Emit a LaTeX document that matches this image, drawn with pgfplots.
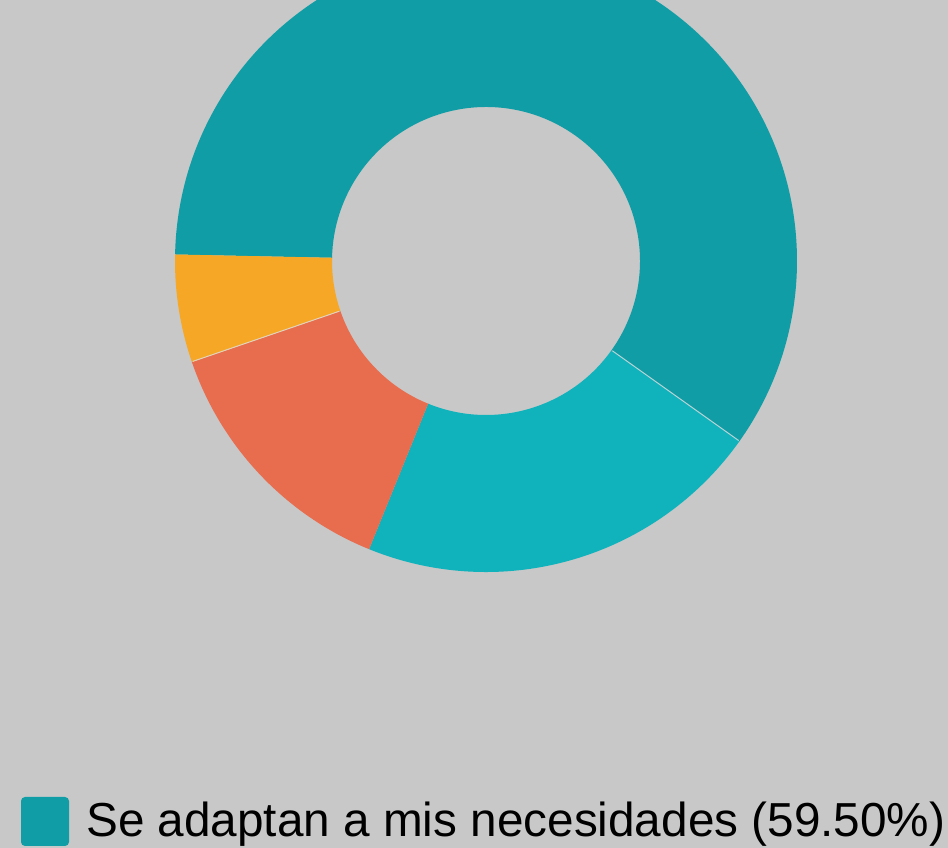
\documentclass[border=0pt]{standalone}
\usepackage{pgfplots}
\usepackage{pgfplotstable}
\pgfplotsset{compat=1.18}
\usepackage{fontspec}
\setmainfont{Liberation Sans}
\definecolor{bgc}{RGB}{200,200,200}
\definecolor{cA}{RGB}{16,157,165}
\definecolor{cB}{RGB}{16,178,188}
\definecolor{cC}{RGB}{232,108,78}
\definecolor{cD}{RGB}{245,167,37}
\pgfplotstableread{
idx value color
0 59.50 cA
1 21.30 cB
2 13.60 cC
3 5.60 cD
}\donutdata
\begin{document}
\begin{tikzpicture}
\begin{axis}[name=ax, hide axis, scale only axis, width=948bp, height=848bp,
  xmin=0, xmax=948, ymin=0, ymax=848, clip=true]
\fill[bgc] (axis cs:0,0) rectangle (axis cs:948,848);
\gdef\cum{178.8}
\pgfplotsforeachungrouped \i in {0,...,3}{%
  \pgfplotstablegetelem{\i}{value}\of\donutdata \let\v\pgfplotsretval
  \pgfplotstablegetelem{\i}{color}\of\donutdata \let\c\pgfplotsretval
  \pgfmathsetmacro\a{\cum}%
  \pgfmathsetmacro\b{\cum - 3.6*\v}%
  \edef\temp{\noexpand\fill[\c] (axis cs:486,587) ++(\a:311bp) arc[start angle=\a, end angle=\b, radius=311bp] -- ++(\b+180:157bp) arc[start angle=\b, end angle=\a, radius=154bp] -- cycle;}%
  \temp
  \xdef\cum{\b}%
}
\draw[line width=1bp, white!40!bgc, opacity=0.8] (axis cs:486,587) ++(-35.4:155bp) -- ++(-35.4:155bp);
\draw[line width=1bp, white!40!bgc, opacity=0.8] (axis cs:486,587) ++(-161.1:155bp) -- ++(-161.1:155bp);
\fill[cA, rounded corners=4bp] (axis cs:21,2) rectangle (axis cs:69,51);
\node[anchor=base west, inner sep=0pt, text=black, font=\fontsize{47.7bp}{57bp}\selectfont] at (axis cs:86,12) {Se adaptan a mis necesidades (59.50\%)};
\end{axis}
\pgfresetboundingbox
\path (ax.south west) rectangle (ax.north east);
\end{tikzpicture}
\end{document}
